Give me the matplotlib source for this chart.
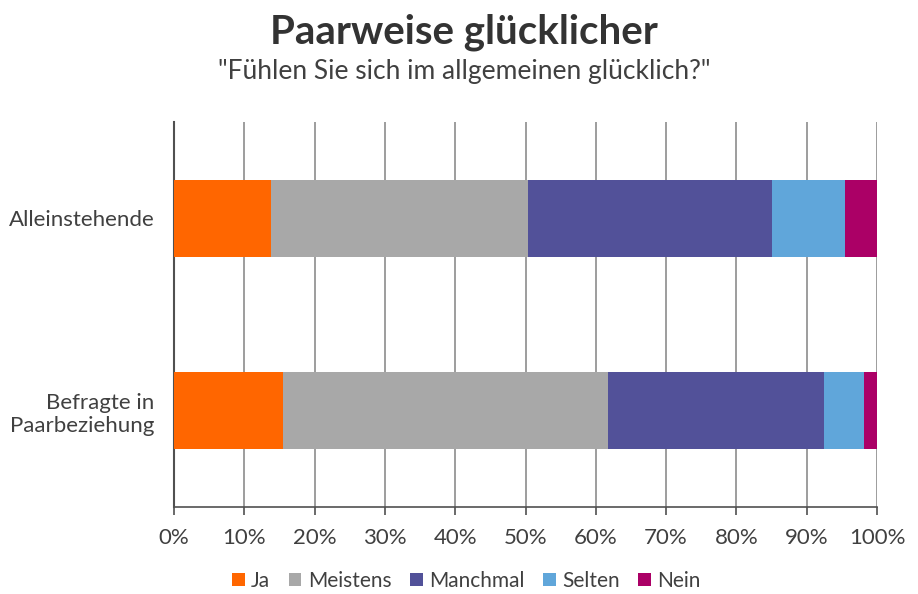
import matplotlib.pyplot as plt
import numpy as np

# data
categories = ['Alleinstehende', 'Befragte in\nPaarbeziehung']
series = ['Ja', 'Meistens', 'Manchmal', 'Selten', 'Nein']
ja = [13.8, 15.5]
meistens = [36.6, 46.3]
manchmal = [34.6, 30.7]
selten = [10.4, 5.7]
nein = [4.6, 1.8]
colors = ['#FF6600', '#A8A8A8', '#525199', '#60A6DA', '#AB0066']
xticks = list(range(0, 101, 10))

plt.rcParams['font.family'] = ['Lato', 'DejaVu Sans']
txt = '#404040'

fig = plt.figure(figsize=(9.18, 5.94), dpi=100)
ax = fig.add_axes([174 / 918, 1 - 507 / 594, 703 / 918, 385 / 594])

y = np.arange(len(categories))
left = np.zeros(len(categories))
for name, vals, col in zip(series, [ja, meistens, manchmal, selten, nein], colors):
    ax.barh(y, vals, left=left, height=0.4, color=col, label=name, zorder=3)
    left += np.array(vals)

ax.set_xlim(0, 100)
ax.set_ylim(1.5, -0.5)
ax.set_xticks(xticks)
ax.set_xticklabels([f'{t}%' for t in xticks], fontsize=16, color=txt)
ax.set_yticks(y)
ax.set_yticklabels(categories, fontsize=16, color=txt, ha='right')
ax.tick_params(axis='y', length=0, pad=14)
ax.tick_params(axis='x', length=6, width=1.2, color='#505050', pad=9, direction='out')

ax.grid(axis='x', color='#8C8C8C', linewidth=1.2, zorder=0)
for s in ['top', 'right']:
    ax.spines[s].set_visible(False)
ax.spines['left'].set_color('#505050')
ax.spines['left'].set_linewidth(1.5)
ax.spines['bottom'].set_color('#505050')
ax.spines['bottom'].set_linewidth(1.2)

fig.text(0.505, 1 - 32 / 594, 'Paarweise glücklicher', ha='center', va='center',
         fontsize=29, fontweight='bold', color='#333333')
fig.text(0.506, 1 - 72 / 594, '"Fühlen Sie sich im allgemeinen glücklich?"', ha='center',
         va='center', fontsize=19, color=txt)

leg = fig.legend(loc='center', bbox_to_anchor=(0.508, 1 - 581 / 594), ncol=5, frameon=False,
                 fontsize=15, handlelength=0.6, handleheight=0.6, handletextpad=0.3,
                 columnspacing=0.9)
for t in leg.get_texts():
    t.set_color(txt)

fig.savefig('out.png', dpi=100)
